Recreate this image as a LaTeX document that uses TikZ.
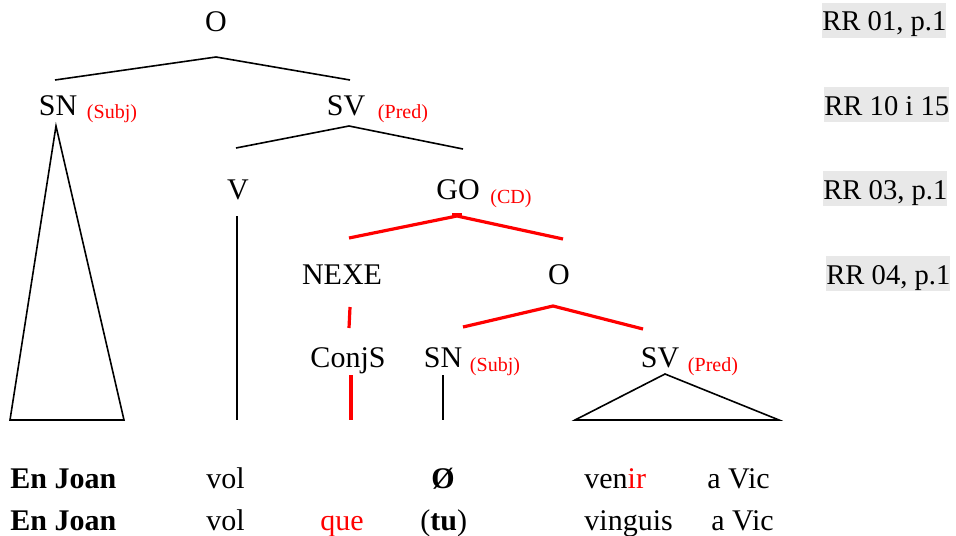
\documentclass[tikz,border=0pt]{standalone}
\usepackage{fontspec}
\setmainfont{Liberation Serif}
\usepackage{xcolor}
\usetikzlibrary{positioning}

\begin{document}
\begin{tikzpicture}[x=0.5pt, y=-0.5pt, font=\fontsize{15}{18}\selectfont,
  cat/.style={anchor=base, inner sep=0pt},
  tag/.style={inner sep=0pt, text=red, font=\fontsize{10}{12}\selectfont},
  word/.style={anchor=base west, inner sep=0pt},
  rr/.style={anchor=base west, inner xsep=0pt, inner ysep=0pt, fill=gray!18,
             font=\fontsize{14.3}{17}\selectfont, text height=14pt, text depth=3.5pt},
  br/.style={line width=0.8pt},
  redbr/.style={red, line width=1.6pt}]
  \useasboundingbox (0,0) rectangle (956,535);

  % Categories
  \node[cat] (o1)    at (216,32)  {O};
  \node[cat] (sn1)   at (58,115)  {SN};
  \node[cat] (sv1)   at (346,115) {SV};
  \node[cat] (v)     at (238,199) {V};
  \node[cat] (go)    at (458,199) {GO};
  \node[cat] (nexe)  at (342,284) {NEXE};
  \node[cat] (o2)    at (559,284) {O};
  \node[cat] (conjs) at (348,367) {ConjS};
  \node[cat] (sn2)   at (443,367) {SN};
  \node[cat] (sv2)   at (660,367) {SV};

  % Functions (red)
  \node[tag, right=4.5pt of sn1.base east, anchor=base west, yshift=-2pt] (sn1-f) {(Subj)};
  \node[tag, right=6pt of sv1.base east, anchor=base west, yshift=-2pt] (sv1-f) {(Pred)};
  \node[tag, right=5pt of go.base east, anchor=base west, yshift=-2pt] (go-f) {(CD)};
  \node[tag, right=3.5pt of sn2.base east, anchor=base west, yshift=-2pt] (sn2-f) {(Subj)};
  \node[tag, right=4pt of sv2.base east, anchor=base west, yshift=-2pt] (sv2-f) {(Pred)};

  % Branch points
  \coordinate (o1-fork)  at (216,57);
  \coordinate (sn1-up)   at (55,80);
  \coordinate (sv1-up)   at (350,80);
  \coordinate (sn1-apex) at (56,126);
  \coordinate (sn1-bl)   at (10,420);
  \coordinate (sn1-br)   at (124,420);
  \coordinate (sv1-fork) at (349,126);
  \coordinate (v-up)     at (236,148);
  \coordinate (go-up)    at (463,149);
  \coordinate (v-dn)     at (237,216);
  \coordinate (v-leaf)   at (237,420);
  \coordinate (go-fork)  at (457,216);
  \coordinate (go-stubl) at (452,215);
  \coordinate (go-stubr) at (462,215);
  \coordinate (nexe-up)  at (349,238);
  \coordinate (o2-up)    at (563,239);
  \coordinate (nexe-dn)  at (350,307);
  \coordinate (conjs-up) at (349,328);
  \coordinate (o2-fork)  at (553,306);
  \coordinate (sn2-up)   at (463,327);
  \coordinate (sv2-up)   at (643,329);
  \coordinate (conjs-dn) at (351,375);
  \coordinate (conjs-lf) at (351,420);
  \coordinate (sn2-dn)   at (443,375);
  \coordinate (sn2-lf)   at (443,420);
  \coordinate (sv2-apex) at (665,374);
  \coordinate (sv2-bl)   at (575,420);
  \coordinate (sv2-br)   at (779,420);

  % Black branches
  \draw[br] (sn1-up) -- (o1-fork) -- (sv1-up);
  \draw[br] (sn1-bl) -- (sn1-apex) -- (sn1-br) -- cycle;
  \draw[br] (v-up) -- (sv1-fork) -- (go-up);
  \draw[br] (v-dn) -- (v-leaf);
  \draw[br] (sn2-dn) -- (sn2-lf);
  \draw[br] (sv2-bl) -- (sv2-apex) -- (sv2-br) -- cycle;

  % Red branches
  \draw[redbr] (nexe-up) -- (go-fork) -- (o2-up);
  \draw[redbr] (go-stubl) -- (go-stubr);
  \draw[redbr] (nexe-dn) -- (conjs-up);
  \draw[redbr] (sn2-up) -- (o2-fork) -- (sv2-up);
  \draw[redbr] (conjs-dn) -- (conjs-lf);

  % Sentences
  \node[word] (r1-joan)  at (10,488)  {\textbf{En Joan}};
  \node[word] (r1-vol)   at (206,488) {vol};
  \node[word] (r1-zero)  at (431,488) {\textbf{Ø}};
  \node[word] (r1-venir) at (584,488) {ven\textcolor{red}{ir}};
  \node[word] (r1-vic)   at (707,488) {a Vic};
  \node[word] (r2-joan)  at (10,530)  {\textbf{En Joan}};
  \node[word] (r2-vol)   at (206,530) {vol};
  \node[word, text=red] (r2-que) at (320,530) {que};
  \node[word] (r2-tu)    at (420,530) {(\textbf{tu})};
  \node[word] (r2-ving)  at (584,530) {vinguis};
  \node[word] (r2-vic)   at (711,530) {a Vic};

  % Rule references
  \node[rr] (rr1) at (822,31)  {RR 01, p.1};
  \node[rr] (rr2) at (824,115) {RR 10 i 15};
  \node[rr] (rr3) at (823,199) {RR 03, p.1};
  \node[rr] (rr4) at (826,284) {RR 04, p.1};
\end{tikzpicture}
\end{document}
